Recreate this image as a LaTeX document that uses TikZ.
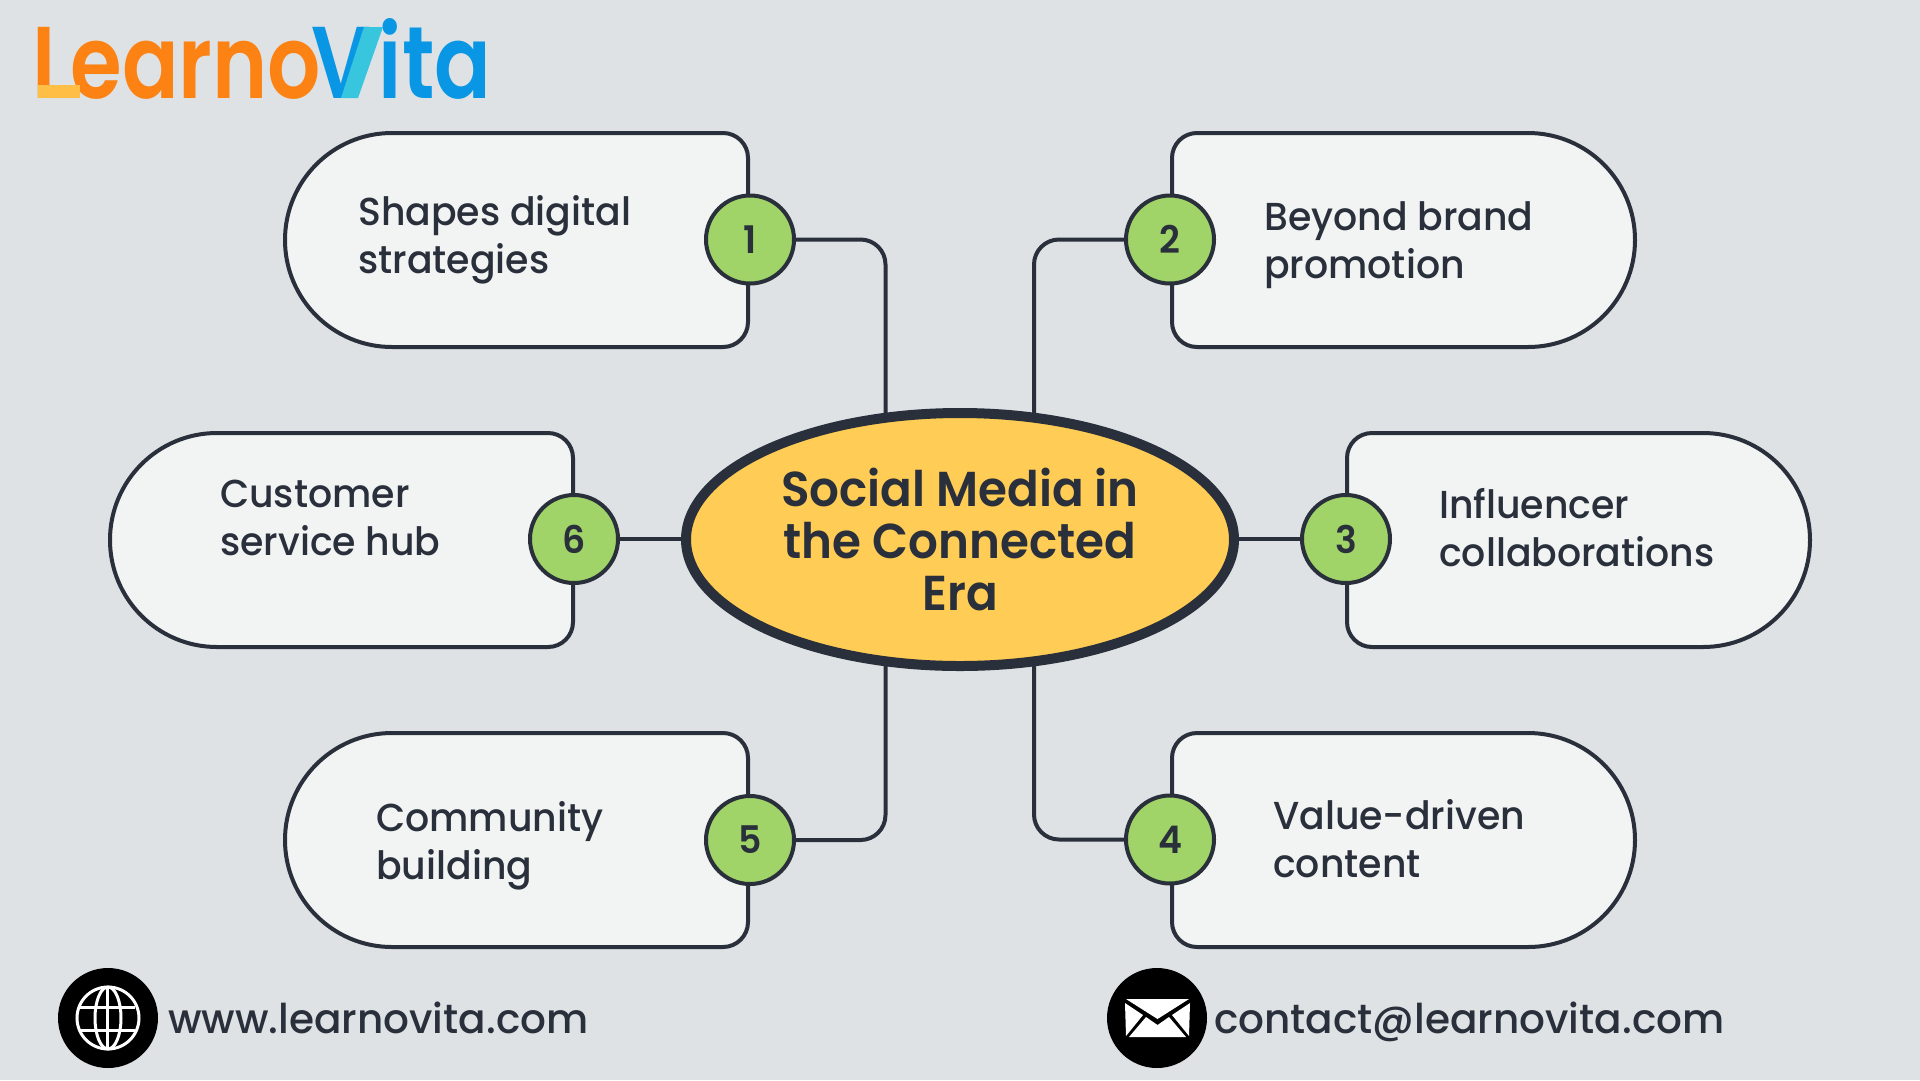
\documentclass[tikz,border=0pt]{standalone}
\usepackage{fontspec}
\setmainfont{Poppins}[UprightFont=* Medium,FakeStretch=0.97]
\newfontfamily\logofont{Poppins}[UprightFont=* SemiBold,FakeStretch=0.82]
\newfontfamily\hubfont{Poppins}[UprightFont=* SemiBold,FakeStretch=0.955]
\newfontfamily\footfont{Poppins}[UprightFont=* Medium,FakeStretch=0.99]
\usetikzlibrary{shapes.geometric,backgrounds}
\definecolor{ink}{HTML}{2A303B}
\definecolor{bgc}{HTML}{DEE2E5}
\definecolor{boxc}{HTML}{F2F4F3}
\definecolor{greenc}{HTML}{A0D468}
\definecolor{hubc}{HTML}{FFCC55}
\definecolor{orangec}{HTML}{FC8213}
\definecolor{yellowc}{HTML}{FFBE45}
\definecolor{bluec}{HTML}{0996E4}
\definecolor{cyanc}{HTML}{38C5DE}
\tikzset{
  x=1pt,y=-1pt,
  boxpath/.style={draw=ink,line width=4pt,fill=boxc},
  numc/.style={circle,draw=ink,line width=4pt,fill=greenc,minimum size=88pt,inner sep=0pt,text=ink,font=\hubfont\fontsize{38}{38}\selectfont},
  lbl/.style={anchor=west,align=left,inner sep=0pt,text=ink,font=\fontsize{39}{48}\selectfont},
  foot/.style={anchor=base west,inner sep=0pt,text=ink,font=\footfont\fontsize{41}{41}\selectfont},
  link/.style={draw=ink,line width=4pt,rounded corners=25pt},
  iconc/.style={circle,fill=black,minimum size=100pt,inner sep=0pt},
  glob/.style={draw=white,line width=3pt},
}
% left-rounded box: x of right edge, y of centre (y axis points down, so angles are negated)
\newcommand{\leftbox}[2]{\path[boxpath] (#1-25,#2-107) arc[start angle=-90,end angle=0,radius=25] -- (#1,#2+82) arc[start angle=0,end angle=90,radius=25] -- (#1-356,#2+107) arc[start angle=90,end angle=270,radius=107] -- cycle;}
% right-rounded box: x of left edge, y of centre
\newcommand{\rightbox}[2]{\path[boxpath] (#1+25,#2-107) arc[start angle=-90,end angle=-180,radius=25] -- (#1,#2+82) arc[start angle=180,end angle=90,radius=25] -- (#1+356,#2+107) arc[start angle=90,end angle=-90,radius=107] -- cycle;}
\begin{document}
\begin{tikzpicture}
\useasboundingbox (0,0) rectangle (1920,1080);
\begin{scope}[on background layer]
\fill[bgc] (0,0) rectangle (1920,1080);
\end{scope}

% logo
\node[anchor=base west,inner sep=0pt,font=\logofont\fontsize{102}{102}\selectfont] (logo) at (32,98)
  {\textcolor{orangec}{Learno}\kern-10pt\textcolor{bluec}{V\kern8pt ita}};
\fill[yellowc] (38,85) -- (80,85) -- (80,98) -- (38,98) -- cycle;
\fill[cyanc] (364,27) -- (383,27) -- (358,98) -- (341,98) -- cycle;

% boxes
\leftbox{748}{240}
\rightbox{1172}{240}
\leftbox{573}{540}
\rightbox{1347}{540}
\leftbox{748}{840}
\rightbox{1172}{840}

% labels
\node[lbl] (t1) at (358,240) {Shapes digital\\strategies};
\node[lbl] (t2) at (1264,245) {Beyond brand\\promotion};
\node[lbl] (t3) at (1439,528) {Influencer\\collaborations};
\node[lbl] (t4) at (1273,839) {Value-driven\\content};
\node[lbl] (t5) at (376,846) {Community\\building};
\node[lbl] (t6) at (220,518) {Customer\\service hub};

% numbered circles
\node[numc] (c1) at (750,239.5) {1};
\node[numc] (c2) at (1170,239.5) {2};
\node[numc] (c3) at (1346,539) {3};
\node[numc] (c4) at (1170,839.5) {4};
\node[numc] (c5) at (750,840) {5};
\node[numc] (c6) at (574,539) {6};

% hub
\node[ellipse,draw=ink,line width=10pt,fill=hubc,minimum width=548pt,minimum height=253pt,inner sep=0pt,align=center,text=ink,font=\hubfont\fontsize{49}{52}\selectfont] (hub) at (960,539.5)
  {Social Media in\\the Connected\\Era};

% connector ends hidden behind the hub
\coordinate (h1) at (885.5,440);
\coordinate (h2) at (1034,440);
\coordinate (h4) at (1034,640);
\coordinate (h5) at (885.5,640);

\begin{scope}[on background layer]
\draw[link] (c1.east) -| (h1);
\draw[link] (c2.west) -| (h2);
\draw[link] (c4.west) -| (h4);
\draw[link] (c5.east) -| (h5);
\draw[link] (c3.west) -- (c3.west -| hub.east);
\draw[link] (c6.east) -- (c6.east -| hub.west);
\end{scope}

% footer
\node[iconc] (globe) at (108,1018) {};
\draw[glob] (globe.center) circle[radius=31];
\draw[glob] (globe.center) ellipse[x radius=13,y radius=31];
\draw[glob] (107.5,987) -- (107.5,1049);
\draw[glob] (80,1007) -- (135,1007);
\draw[glob] (80,1030) -- (135,1030);
\node[foot] (web) at (168,1033) {www.learnovita.com};

\node[iconc] (mail) at (1157,1018) {};
\fill[white] (1126,999) -- (1189,999) -- (1157.5,1019) -- cycle;
\fill[white] (1125,1003) -- (1143,1015) -- (1126,1036) -- cycle;
\fill[white] (1190,1003) -- (1172,1015) -- (1189,1036) -- cycle;
\fill[white] (1146,1017) -- (1157.5,1025) -- (1169,1017) -- (1186,1037) -- (1129,1037) -- cycle;
\node[foot] (email) at (1214,1033) {contact@learnovita.com};
\end{tikzpicture}
\end{document}
